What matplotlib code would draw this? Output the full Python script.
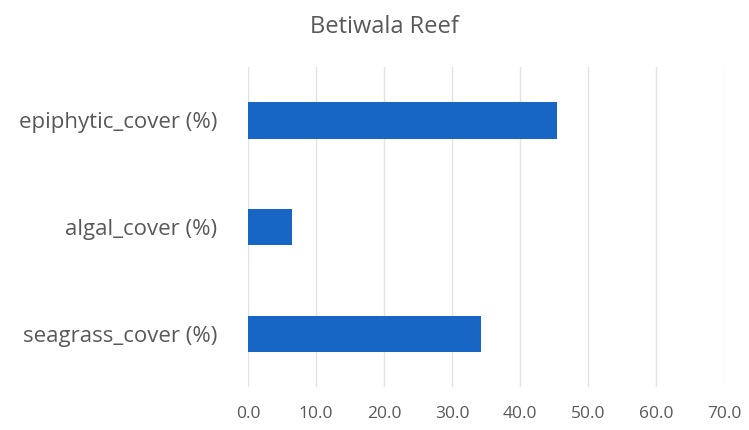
import matplotlib
matplotlib.use("Agg")
import matplotlib.pyplot as plt

categories = ["seagrass_cover (%)", "algal_cover (%)", "epiphytic_cover (%)"]
values = [34.3, 6.5, 45.4]
xticks = [0, 10, 20, 30, 40, 50, 60, 70]

plt.rcParams['font.family'] = ['Open Sans', 'DejaVu Sans']

fig = plt.figure(figsize=(7.49, 4.30), dpi=100)
ax = fig.add_axes([248 / 749, 0.10, (724 - 248) / 749, 0.744])

ax.barh(categories, values, height=0.34, color="#1766c6", zorder=3)

ax.set_xlim(0, 70)
ax.set_ylim(-0.5, 2.5)
ax.set_xticks(xticks)
ax.set_xticklabels([f"{t:.1f}" for t in xticks])
ax.grid(axis="x", color="#e3e3e3", linewidth=1, zorder=0)
for side in ax.spines.values():
    side.set_visible(False)
ax.tick_params(axis="both", length=0, colors="#595959")
ax.tick_params(axis="x", labelsize=12.5, pad=14)
ax.tick_params(axis="y", labelsize=16, pad=22)

fig.text(0.513, 0.937, "Betiwala Reef", ha="center", va="center",
         fontsize=17, color="#595959")

fig.savefig("out.png", dpi=100)
